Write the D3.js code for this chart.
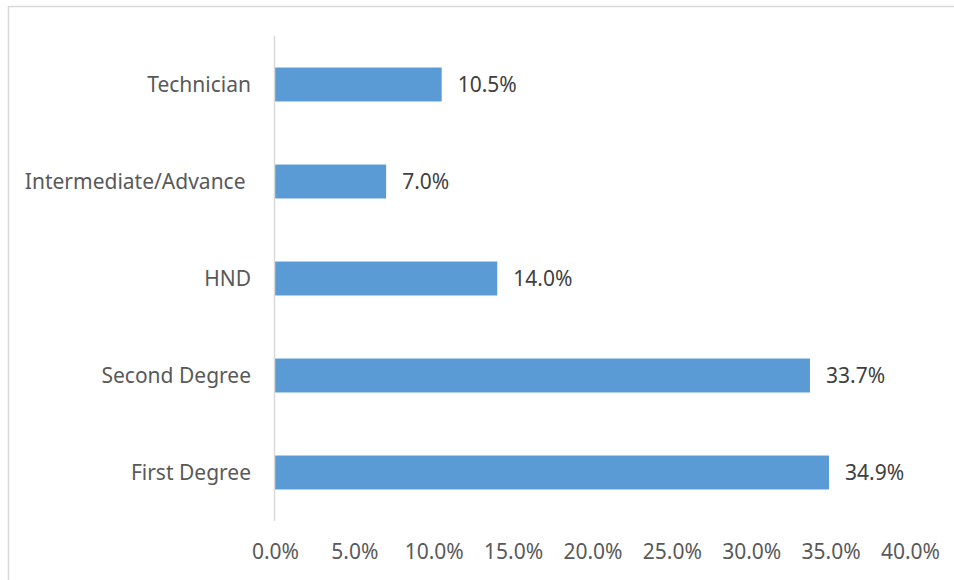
<!DOCTYPE html>
<html>
<head>
<meta charset="utf-8">
<script src="https://cdn.jsdelivr.net/npm/d3@7"></script>
<style>
    body { margin: 0; background: #fff; }
    text { font-family: "Noto Sans", "Open Sans", sans-serif; }
</style>
</head>
<body>
<svg id="chart"></svg>
<script>
var categories = ["Technician", "Intermediate/Advance ", "HND", "Second Degree", "First Degree"];
var values = [10.5, 7.0, 14.0, 33.7, 34.9];
var tickValues = [0, 5, 10, 15, 20, 25, 30, 35, 40];

var width = 954;
var height = 580;

var svg = d3.select("#chart")
    .attr("width", width)
    .attr("height", height);

// chart frame
svg.append("rect")
    .attr("x", 8.5)
    .attr("y", 6.5)
    .attr("width", 1000)
    .attr("height", 700)
    .attr("fill", "none")
    .attr("stroke", "#d9d9d9")
    .attr("stroke-width", 1.5);

var x = d3.scaleLinear()
    .domain([0, 40])
    .range([275, 910]);

var y = d3.scaleBand()
    .domain(categories)
    .range([36, 521])
    .paddingInner(0.65)
    .paddingOuter(0.325);

var data = [];
for (var i = 0; i < categories.length; i++) {
    data.push({ name: categories[i], value: values[i] });
}

svg.selectAll(".bar")
    .data(data)
    .enter()
    .append("rect")
    .attr("class", "bar")
    .attr("x", x(0))
    .attr("y", function (d) { return y(d.name); })
    .attr("width", function (d) { return x(d.value) - x(0); })
    .attr("height", y.bandwidth())
    .attr("fill", "#5b9bd5");

// vertical axis line
svg.append("line")
    .attr("x1", x(0) - 0.5)
    .attr("x2", x(0) - 0.5)
    .attr("y1", 36)
    .attr("y2", 521)
    .attr("stroke", "#d9d9d9")
    .attr("stroke-width", 1.5);

// category labels
svg.selectAll(".cat")
    .data(data)
    .enter()
    .append("text")
    .attr("class", "cat")
    .attr("x", 251)
    .attr("y", function (d) { return y(d.name) + y.bandwidth() / 2; })
    .attr("dy", "0.35em")
    .attr("text-anchor", "end")
    .style("white-space", "pre")
    .attr("font-size", "21px")
    .attr("fill", "#595959")
    .text(function (d) { return d.name; });

// value labels
svg.selectAll(".val")
    .data(data)
    .enter()
    .append("text")
    .attr("class", "val")
    .attr("x", function (d) { return x(d.value) + 16; })
    .attr("y", function (d) { return y(d.name) + y.bandwidth() / 2; })
    .attr("dy", "0.35em")
    .attr("font-size", "21px")
    .attr("fill", "#404040")
    .text(function (d) { return d.value.toFixed(1) + "%"; });

// x axis tick labels
var xAxis = d3.axisBottom(x)
    .tickValues(tickValues)
    .tickSize(0)
    .tickPadding(0)
    .tickFormat(function (d) { return d.toFixed(1) + "%"; });

var gx = svg.append("g")
    .attr("transform", "translate(0,552)")
    .call(xAxis);

gx.select(".domain").remove();
gx.selectAll("text")
    .attr("dy", "0.35em")
    .attr("y", 0)
    .attr("font-size", "21px")
    .attr("font-family", "Noto Sans, Open Sans, sans-serif")
    .attr("fill", "#595959");
</script>
</body>
</html>
